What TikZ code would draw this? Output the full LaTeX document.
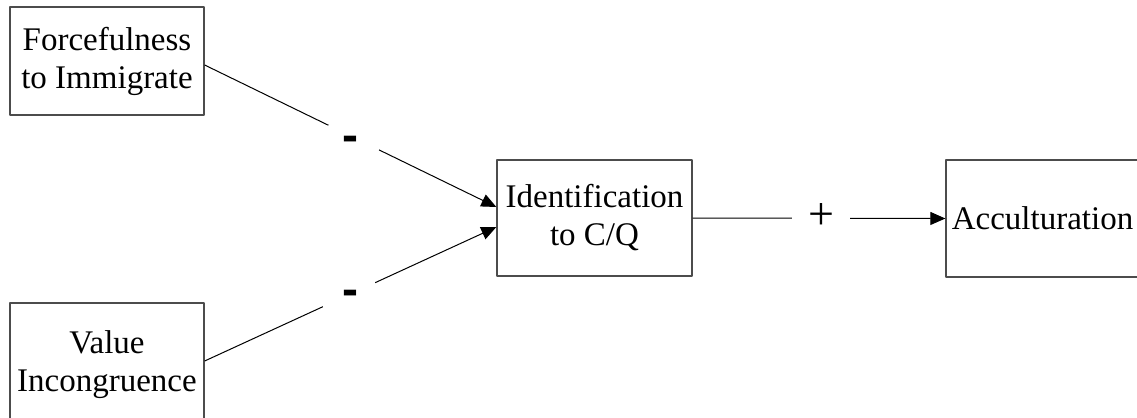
\documentclass[tikz,border=0pt]{standalone}
\usepackage{fontspec}
\setmainfont{Liberation Serif}
\newfontfamily\signfont{Liberation Sans}
\usetikzlibrary{arrows.meta}
\tikzset{
  factor/.style={draw=black!70, line width=1.3bp, align=center, inner sep=0pt,
    font=\fontsize{33bp}{38bp}\selectfont},
  sign/.style={circle, fill=white, inner sep=0pt, minimum size=58bp,
    font=\fontsize{46bp}{48bp}\selectfont},
  minus/.style={sign, font=\signfont\bfseries\fontsize{48bp}{50bp}\selectfont},
}
\begin{document}
\begin{tikzpicture}[>={Triangle[length=15bp,width=13bp]},x=1bp,y=-1bp,line join=bevel]
  \pgfsetlinewidth{1bp}
  \useasboundingbox (0,0) rectangle (1137,417);
%%
  % Node: Forcefulness to Immigrate
  \node[factor, minimum width=194bp, minimum height=108bp] (force) at (107,61) {Forcefulness\\to Immigrate};
  % Node: Value Incongruence
  \node[factor, minimum width=194bp, minimum height=124bp] (value) at (107,365) {Value\\Incongruence};
  % Node: Identification to C/Q
  \node[factor, minimum width=195bp, minimum height=116bp] (ident) at (594.5,218) {Identification\\to C/Q};
  % Node: Acculturation
  \node[factor, minimum width=193bp, minimum height=117bp] (accult) at (1042.5,218.5) {Acculturation};
  % Edge: Forcefulness -> Identification
  \draw [->] ([yshift=-4bp]force.east) -- node[minus, yshift=-8bp] {-} ([yshift=11bp]ident.west);
  % Edge: Value -> Identification
  \draw [->] ([yshift=4bp]value.east) -- node[minus, yshift=-4bp] {-} ([yshift=-9bp]ident.west);
  % Edge: Identification -> Acculturation
  \draw [->] (ident.east) -- node[sign, pos=0.508, yshift=2bp] {+} (accult.west);
%
\end{tikzpicture}
\end{document}
